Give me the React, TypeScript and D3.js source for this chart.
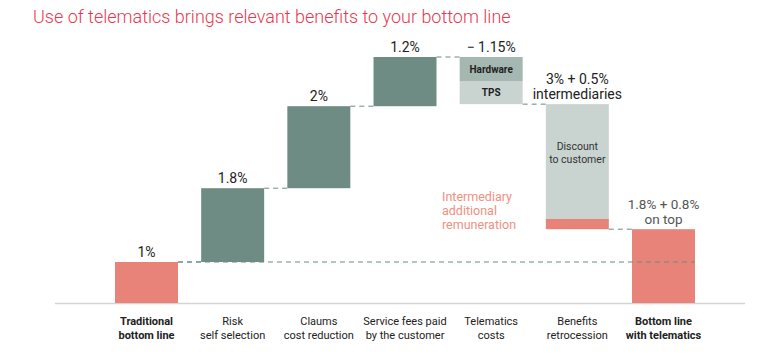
import React from "react";
import * as d3 from "d3";

const categories = [
  ["Traditional", "bottom line"],
  ["Risk", "self selection"],
  ["Claums", "cost reduction"],
  ["Service fees paid", "by the customer"],
  ["Telematics", "costs"],
  ["Benefits", "retrocession"],
  ["Bottom line", "with telematics"],
];
const boldCategory = [true, false, false, false, false, false, true];
const stepValues = [1, 1.8, 2, 1.2, -1.15, -3.05, 1.8];
const telematicsParts = [
  { name: "Hardware", value: 0.6 },
  { name: "TPS", value: 0.55 },
];
const benefitsParts = [
  { name: "Discount to customer", value: 2.8 },
  { name: "Intermediary", value: 0.25 },
];
const valueLabels = [["1%"], ["1.8%"], ["2%"], ["1.2%"], ["\u2212 1.15%"], ["3% + 0.5%", "intermediaries"], ["1.8% + 0.8%", "on top"]];

const W = 777;
const H = 354;
const RED = "#e8837a";
const GREEN = "#6e8c84";
const HW = "#a4b7b1";
const LIGHT = "#c9d4d1";
const DASH = "#6b8a82";
const FONT = "Roboto, 'Noto Sans', Arial, sans-serif";

export default function App() {
  const x = d3
    .scaleBand<number>()
    .domain(d3.range(categories.length))
    .range([92, 718])
    .paddingInner(0.269)
    .paddingOuter(0.267);
  const y = d3.scaleLinear().domain([0, 6]).range([303, 57]);
  const bw = x.bandwidth();

  // compute waterfall positions
  const bars: { i: number; y0: number; y1: number }[] = [];
  let cum = 0;
  stepValues.forEach((v, i) => {
    if (i === 0 || i === stepValues.length - 1) {
      bars.push({ i, y0: 0, y1: v });
      cum = v;
    } else {
      bars.push({ i, y0: cum, y1: cum + v });
      cum += v;
    }
  });

  const barTop = (b: { y0: number; y1: number }) => y(Math.max(b.y0, b.y1));
  const barBot = (b: { y0: number; y1: number }) => y(Math.min(b.y0, b.y1));

  const rects: JSX.Element[] = [];
  bars.forEach((b) => {
    const x0 = x(b.i)!;
    if (b.i === 4) {
      let c = b.y0;
      telematicsParts.forEach((p, k) => {
        const top = y(c);
        const bot = y(c - p.value);
        rects.push(
          <rect key={`t${k}`} x={x0} y={top} width={bw} height={bot - top} fill={k === 0 ? HW : LIGHT} />
        );
        rects.push(
          <text key={`tt${k}`} x={x0 + bw / 2} y={(top + bot) / 2 + 3.5} textAnchor="middle" fontSize={10} fontWeight={700} fill="#222">
            {p.name}
          </text>
        );
        c -= p.value;
      });
    } else if (b.i === 5) {
      let c = b.y0;
      benefitsParts.forEach((p, k) => {
        const top = y(c);
        const bot = y(c - p.value);
        rects.push(
          <rect key={`b${k}`} x={x0} y={top} width={bw} height={bot - top} fill={k === 0 ? LIGHT : RED} />
        );
        c -= p.value;
      });
      const midY = y(b.y0) + 50;
      rects.push(
        <text key="disc" x={x0 + bw / 2} textAnchor="middle" fontSize={10.5} fill="#333">
          <tspan x={x0 + bw / 2} y={midY - 4}>Discount</tspan>
          <tspan x={x0 + bw / 2} y={midY + 9}>to customer</tspan>
        </text>
      );
    } else {
      const color = b.i === 0 || b.i === 6 ? RED : GREEN;
      rects.push(
        <rect key={`r${b.i}`} x={x0} y={barTop(b)} width={bw} height={barBot(b) - barTop(b)} fill={color} />
      );
    }
  });

  // connectors
  const connectors: JSX.Element[] = [];
  for (let k = 0; k < bars.length - 1; k++) {
    const level = bars[k].y1;
    const xa = x(k)! + bw;
    const xb = x(k + 1)!;
    connectors.push(
      <line key={`c${k}`} x1={xa} x2={xb} y1={y(level)} y2={y(level)} stroke={DASH} strokeWidth={1} strokeDasharray="5,4" />
    );
  }

  return (
    <div style={{ position: "fixed", left: 0, top: 0 }}>
      <svg width={W} height={H} style={{ display: "block", fontFamily: FONT }}>
        <rect width={W} height={H} fill="#fff" />
        <text x={33} y={23} fontSize={18} fontWeight={300} fill="#e8384f">
          Use of telematics brings relevant benefits to your bottom line
        </text>
        {/* axis */}
        <line x1={55} x2={745} y1={y(0) + 0.5} y2={y(0) + 0.5} stroke="#d4d4d4" strokeWidth={1.5} />
        {rects}
        {/* baseline dashed line at traditional level */}
        <line
          x1={x(0)! + bw}
          x2={x(6)! + bw}
          y1={y(stepValues[0])}
          y2={y(stepValues[0])}
          stroke={DASH}
          strokeWidth={1}
          strokeDasharray="5,4"
        />
        {connectors}
        {/* value labels */}
        {bars.map((b) => {
          const lines = valueLabels[b.i];
          const top = y(Math.max(b.y0, b.y1));
          const cx = x(b.i)! + bw / 2;
          const last = top - 5;
          const isFinal = b.i === 6;
          return (
            <text key={`v${b.i}`} textAnchor="middle" fontSize={isFinal ? 13.5 : 14} fill={isFinal ? "#555" : "#222"}>
              {lines.map((l, j) => (
                <tspan key={j} x={cx} y={last - (lines.length - 1 - j) * 15}>
                  {l}
                </tspan>
              ))}
            </text>
          );
        })}
        {/* intermediary annotation */}
        <text fontSize={12.5} fill="#f0907f">
          <tspan x={442} y={201}>Intermediary</tspan>
          <tspan x={442} y={215}>additional</tspan>
          <tspan x={442} y={229}>remuneration</tspan>
        </text>
        {/* category labels */}
        {categories.map((c, i) => (
          <text key={`cat${i}`} textAnchor="middle" fontSize={11} fontWeight={boldCategory[i] ? 700 : 400} fill="#222">
            {c.map((l, j) => (
              <tspan key={j} x={x(i)! + bw / 2} y={325 + j * 14}>
                {l}
              </tspan>
            ))}
          </text>
        ))}
      </svg>
    </div>
  );
}
